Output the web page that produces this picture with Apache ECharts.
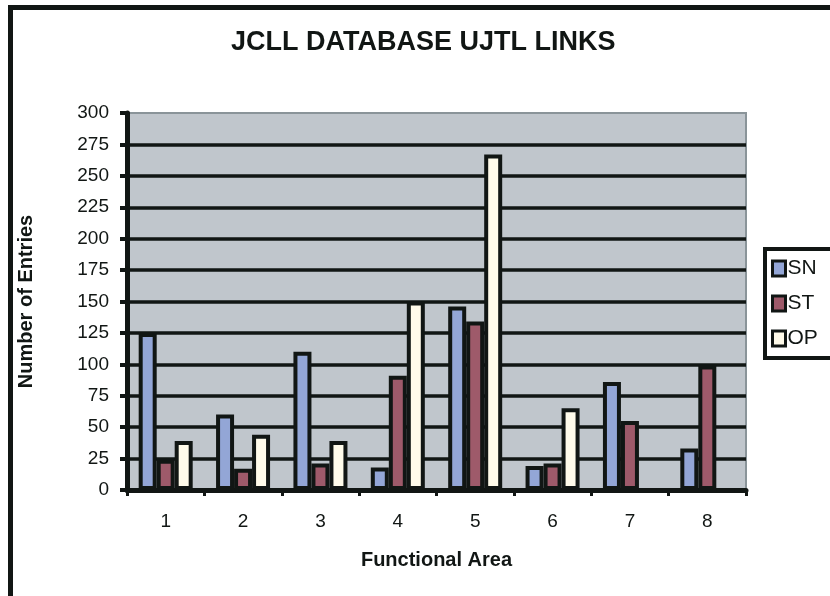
<!DOCTYPE html>
<html>
<head>
<meta charset="utf-8">
<script src="https://cdn.jsdelivr.net/npm/echarts@6/dist/echarts.min.js"></script>
<style>
  html, body { margin: 0; padding: 0; background: #fff; }
  #chart { width: 830px; height: 596px; }
</style>
</head>
<body>
<div id="chart"></div>
<script>
const areas = ['1', '2', '3', '4', '5', '6', '7', '8']
const snValues = [125, 60, 110, 18, 146, 19, 86, 33]
const stValues = [24, 17, 21, 91, 134, 21, 55, 99]
const opValues = [39, 44, 39, 150, 267, 65, 0, 0]

const font = "'Liberation Sans', Arial, sans-serif"
const ink = '#111614'

const chart = echarts.init(document.getElementById('chart'))

function barSeries(name, data, color) {
  return {
    name: name,
    type: 'bar',
    data: data,
    barWidth: 18,
    barGap: '0%',
    itemStyle: {
      color: color,
      borderColor: ink,
      borderWidth: 4
    }
  }
}

chart.setOption({
  animation: false,
  backgroundColor: '#fff',
  textStyle: { fontFamily: font },
  title: {
    text: 'JCLL DATABASE UJTL LINKS',
    left: 231,
    top: 29,
    padding: 0,
    textStyle: { fontFamily: font, fontSize: 27, fontWeight: 'bold', color: ink }
  },
  graphic: [
    { type: 'rect', shape: { x: 8, y: 5, width: 5, height: 600 }, style: { fill: ink } },
    { type: 'rect', shape: { x: 8, y: 5, width: 830, height: 5 }, style: { fill: ink } }
  ],
  legend: {
    orient: 'vertical',
    left: 765,
    top: 249,
    padding: [9, 40, 9, 6],
    itemGap: 14,
    itemWidth: 13,
    itemHeight: 15,
    backgroundColor: '#fff',
    borderColor: ink,
    borderWidth: 4,
    borderRadius: 0,
    icon: 'rect',
    itemStyle: { borderColor: ink, borderWidth: 3 },
    textStyle: { fontFamily: font, fontSize: 21, color: ink, padding: [0, 0, 0, -3] }
  },
  grid: {
    left: 127,
    right: 84,
    top: 113,
    bottom: 106,
    show: true,
    backgroundColor: '#c0c6cc',
    borderColor: '#8a9499',
    borderWidth: 2
  },
  xAxis: {
    type: 'category',
    data: areas,
    name: 'Functional Area',
    nameLocation: 'middle',
    nameGap: 60,
    nameTextStyle: { fontFamily: font, fontSize: 20, fontWeight: 'bold', color: ink },
    axisLine: { lineStyle: { color: ink, width: 5 } },
    axisTick: { show: true, length: 6, lineStyle: { color: ink, width: 3 } },
    axisLabel: { margin: 22, fontFamily: font, fontSize: 19, color: ink }
  },
  yAxis: {
    type: 'value',
    min: 0,
    max: 300,
    interval: 25,
    name: 'Number of Entries',
    nameLocation: 'middle',
    nameGap: 91,
    nameTextStyle: { fontFamily: font, fontSize: 20, fontWeight: 'bold', color: ink },
    axisLine: { show: true, lineStyle: { color: ink, width: 5 } },
    axisTick: { show: true, length: 7, lineStyle: { color: ink, width: 4 } },
    axisLabel: { margin: 18, fontFamily: font, fontSize: 19, color: ink },
    splitLine: { show: true, showMaxLine: false, lineStyle: { color: ink, width: 3.5 } }
  },
  series: [
    barSeries('SN', snValues, '#93a6d6'),
    barSeries('ST', stValues, '#9e5a6a'),
    barSeries('OP', opValues, '#fffbea')
  ]
})
</script>
</body>
</html>
